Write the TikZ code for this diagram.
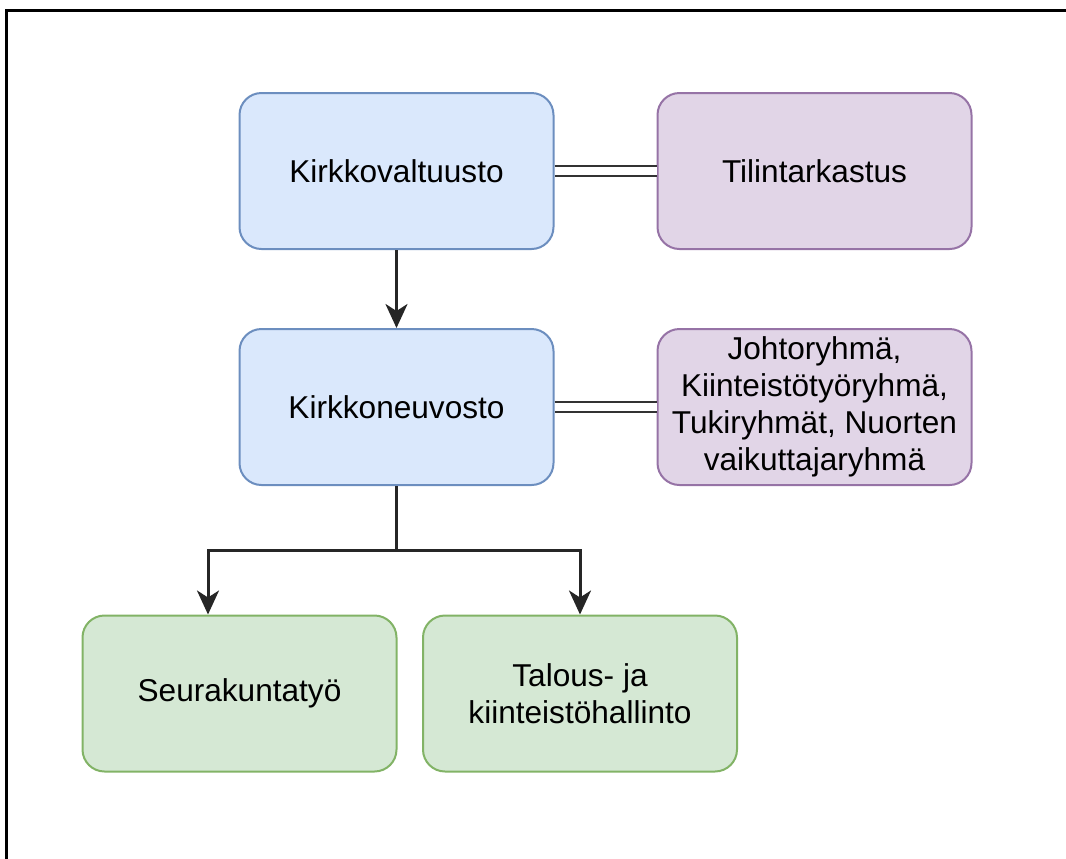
\documentclass[tikz,border=0pt]{standalone}
\usepackage{fontspec}
\setmainfont{Liberation Sans}
\usetikzlibrary{arrows.meta}
\definecolor{bluefill}{HTML}{DAE8FC}
\definecolor{bluedraw}{HTML}{6C8EBF}
\definecolor{purplefill}{HTML}{E1D5E7}
\definecolor{purpledraw}{HTML}{9673A6}
\definecolor{greenfill}{HTML}{D5E8D4}
\definecolor{greendraw}{HTML}{82B366}
\tikzset{
  box/.style={rounded corners=11pt,line width=1pt,minimum width=157pt,minimum height=78pt,align=center,font=\fontsize{15.8}{18.5}\selectfont},
  council/.style={box,draw=bluedraw,fill=bluefill},
  audit/.style={box,draw=purpledraw,fill=purplefill},
  unit/.style={box,draw=greendraw,fill=greenfill},
  flow/.style={line width=1.5pt,draw=black!85,-{Stealth[length=12pt,width=11pt,inset=3.5pt]}},
  link/.style={line width=1.3pt,draw=black!80,double=white,double distance=3.7pt}
}
\begin{document}
\begin{tikzpicture}[x=0.5pt,y=-0.5pt]
      \useasboundingbox (0,0) rectangle (1066,858);
      \draw[line width=1.5pt] (6,10) rectangle (1080,870);

      \node[council] (kv) at (396.5,171) {Kirkkovaltuusto};
      \node[audit] (tt) at (814.5,171) {Tilintarkastus};
      \node[council] (kn) at (396.5,407) {Kirkkoneuvosto};
      \node[audit] (jr) at (814.5,407) {Johtoryhmä,\\Kiinteistötyöryhmä,\\Tukiryhmät, Nuorten\\vaikuttajaryhmä};
      \node[unit] (st) at (239.5,693.5) {Seurakuntatyö};
      \node[unit] (th) at (580,693.5) {Talous- ja\\kiinteistöhallinto};

      \draw[link] (kv) -- (tt);
      \draw[link] (kn) -- (jr);
      \draw[flow] (kv.south) -- (kn.north);
      \draw[flow] (kn.south) -- ++(0,64) -| ([xshift=-15.75pt]st.north);
      \draw[flow] (kn.south) -- ++(0,64) -| (th.north);
    \end{tikzpicture}
\end{document}
